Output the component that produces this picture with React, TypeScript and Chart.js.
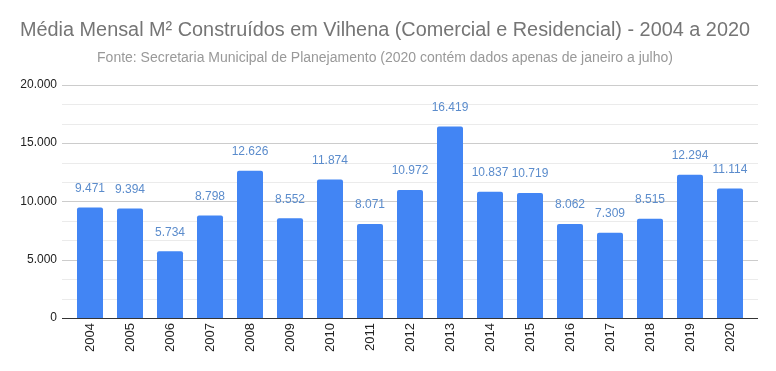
import React, { useEffect, useRef } from "react";
import { Chart, registerables } from "chart.js";

Chart.register(...registerables);

const titleText = "Média Mensal M² Construídos em Vilhena (Comercial e Residencial) - 2004 a 2020";
const subtitleText = "Fonte: Secretaria Municipal de Planejamento (2020 contém dados apenas de janeiro a julho)";
const years = ["2004", "2005", "2006", "2007", "2008", "2009", "2010", "2011", "2012", "2013", "2014", "2015", "2016", "2017", "2018", "2019", "2020"];
const values = [9471, 9394, 5734, 8798, 12626, 8552, 11874, 8071, 10972, 16419, 10837, 10719, 8062, 7309, 8515, 12294, 11114];
const yMax = 20000;
const majorStep = 5000;
const minorPerMajor = 3;

const fmt = (v: number) => Math.round(v).toLocaleString("pt-BR");

const FONT = "'Liberation Sans', Arial, sans-serif";
const GRID_OVERHANG = 8;

const gridPlugin = {
  id: "extGrid",
  beforeDatasetsDraw(chart: any) {
    const ctx = chart.ctx;
    const y = chart.scales.y;
    const { left, right } = chart.chartArea;
    ctx.save();
    ctx.lineWidth = 1;
    y.ticks.forEach((t: any) => {
      const v = Math.round(t.value);
      if (v === 0) return;
      const py = Math.round(y.getPixelForValue(t.value)) + 0.5;
      ctx.strokeStyle = v % majorStep === 0 ? "#cccccc" : "#ebebeb";
      ctx.beginPath();
      ctx.moveTo(left - GRID_OVERHANG, py);
      ctx.lineTo(right + GRID_OVERHANG, py);
      ctx.stroke();
    });
    ctx.restore();
  },
  afterDatasetsDraw(chart: any) {
    const ctx = chart.ctx;
    const y = chart.scales.y;
    const { left, right } = chart.chartArea;
    ctx.save();
    const py = Math.round(y.getPixelForValue(0)) + 0.5;
    ctx.strokeStyle = "#333333";
    ctx.lineWidth = 1;
    ctx.beginPath();
    ctx.moveTo(left - GRID_OVERHANG, py);
    ctx.lineTo(right + GRID_OVERHANG, py);
    ctx.stroke();

    const meta = chart.getDatasetMeta(0);
    ctx.font = `12px ${FONT}`;
    ctx.fillStyle = "#5b8ccc";
    ctx.textAlign = "center";
    ctx.textBaseline = "middle";
    meta.data.forEach((el: any, i: number) => {
      ctx.fillText(fmt(values[i]), el.x, el.y - 19);
    });
    ctx.restore();
  },
};

export default function App() {
  const ref = useRef<HTMLCanvasElement>(null);
  useEffect(() => {
    if (!ref.current) return;
    const chart = new Chart(ref.current, {
      type: "bar",
      data: {
        labels: years,
        datasets: [
          {
            data: values,
            backgroundColor: "#4285f4",
            borderRadius: { topLeft: 2, topRight: 2, bottomLeft: 0, bottomRight: 0 },
            borderSkipped: "bottom",
            barPercentage: 0.65,
            categoryPercentage: 1,
          },
        ],
      },
      options: {
        responsive: false,
        animation: false,
        layout: { padding: { left: 20, right: 26, top: 6, bottom: 14 } },
        plugins: {
          legend: { display: false },
          tooltip: { enabled: false },
          title: {
            display: true,
            text: titleText,
            color: "#757575",
            font: { family: FONT, size: 20, weight: "normal" },
            padding: { top: 12, bottom: 4 },
          },
          subtitle: {
            display: true,
            text: subtitleText,
            color: "#999999",
            font: { family: FONT, size: 14, weight: "normal" },
            padding: { top: 4, bottom: 18 },
          },
        },
        scales: {
          x: {
            grid: { display: false, drawTicks: false },
            border: { display: false },
            ticks: {
              color: "#222222",
              font: { family: FONT, size: 13 },
              minRotation: 90,
              maxRotation: 90,
              padding: 5,
            },
          },
          y: {
            min: 0,
            max: yMax,
            border: { display: false },
            grid: { display: false, drawTicks: false },
            afterFit: (s: any) => {
              s.width = 50;
            },
            ticks: {
              stepSize: majorStep / minorPerMajor,
              color: "#222222",
              font: { family: FONT, size: 12 },
              padding: 13,
              autoSkip: false,
              callback: (v: any) => {
                const n = Math.round(Number(v));
                return n % majorStep === 0 ? fmt(n) : "";
              },
            },
          },
        },
      },
      plugins: [gridPlugin],
    });
    return () => chart.destroy();
  }, []);
  return (
    <div style={{ position: "fixed", left: 0, top: 0, width: 776, height: 371, background: "#fff" }}>
      <canvas ref={ref} width={776} height={371} />
    </div>
  );
}
